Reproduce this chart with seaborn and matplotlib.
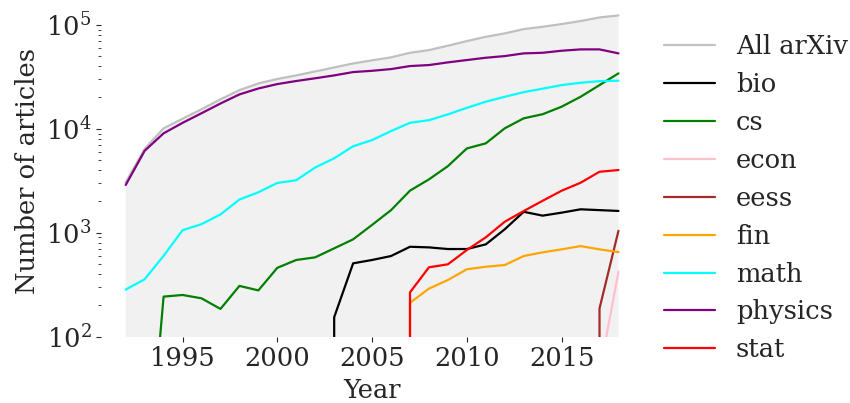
import numpy as np
import pandas as pd
import matplotlib
matplotlib.use("Agg")
import matplotlib.pyplot as plt
import seaborn as sns

# arXiv submissions per year
years = list(range(1992, 2019))

all_arxiv = [3050, 6400, 10100, 12500, 15400, 19200, 23500, 27300, 30100, 32600,
             35600, 38900, 42500, 45500, 48600, 53800, 57100, 62900, 69700, 76700,
             82600, 90900, 95700, 101600, 108600, 117700, 123000]
bio = [0, 0, 0, 0, 0, 0, 0, 0, 0, 0, 0,
       154, 508, 547, 597, 733, 723, 697, 697, 773, 1080, 1590, 1460, 1560, 1680, 1650, 1620]
cs = [0, 2, 243, 252, 234, 185, 308, 279, 460, 547, 580, 708, 864, 1190, 1650, 2540,
      3260, 4370, 6470, 7240, 10100, 12600, 13800, 16300, 20300, 26300, 34100]
econ = [0, 0, 0, 0, 0, 0, 0, 0, 0, 0, 0, 0, 0, 0, 0, 0, 0, 0, 0, 0, 0, 0, 0, 0, 0,
        45, 422]
eess = [0, 0, 0, 0, 0, 0, 0, 0, 0, 0, 0, 0, 0, 0, 0, 0, 0, 0, 0, 0, 0, 0, 0, 0, 0,
        187, 1045]
fin = [0, 0, 0, 0, 0, 0, 0, 0, 0, 0, 0, 0, 0, 0, 0,
       212, 290, 351, 445, 471, 489, 597, 648, 692, 744, 692, 652]
math_ = [284, 357, 600, 1057, 1210, 1500, 2085, 2450, 3010, 3200, 4240, 5200, 6790,
         7780, 9500, 11400, 12100, 13750, 15900, 18200, 20300, 22500, 24300, 26300,
         27700, 28700, 29000]
physics = [2880, 6140, 9040, 11400, 14100, 17500, 21400, 24400, 26900, 28800, 30600,
           32600, 35100, 36100, 37500, 40100, 41000, 43500, 45800, 48200, 50000, 53100,
           53800, 56300, 58000, 58000, 53100]
stat = [0, 0, 0, 0, 0, 0, 0, 0, 0, 0, 0, 0, 0, 0, 0,
        267, 465, 497, 682, 903, 1276, 1617, 2030, 2535, 3025, 3860, 4010]

series = {
    "All arXiv": all_arxiv,
    "bio": bio,
    "cs": cs,
    "econ": econ,
    "eess": eess,
    "fin": fin,
    "math": math_,
    "physics": physics,
    "stat": stat,
}
colors = {
    "All arXiv": "silver",
    "bio": "black",
    "cs": "green",
    "econ": "pink",
    "eess": "brown",
    "fin": "orange",
    "math": "cyan",
    "physics": "purple",
    "stat": "red",
}

sns.set_style("ticks")
plt.rcParams["font.family"] = ["DejaVu Serif"]
plt.rcParams["mathtext.fontset"] = "dejavuserif"
plt.rcParams["font.size"] = 18.5

fig = plt.figure(figsize=(8.5, 4.03), dpi=100)
ax = fig.add_axes([0.1189, 0.1645, 0.6377, 0.823])

ax.fill_between(years, 1, all_arxiv, color="#f1f1f1", lw=0)
for name, vals in series.items():
    sns.lineplot(x=years, y=vals, color=colors[name], label=name,
                 estimator=None, linewidth=1.6, ax=ax, legend=False)

ax.set_yscale("log")
ax.set_xlim(years[0] - 1.3, years[-1] + 1.3)
ax.set_ylim(100, 10 ** 5.19)
ax.set_xticks([1995, 2000, 2005, 2010, 2015])
ax.set_xlabel("Year", labelpad=5)
ax.set_ylabel("Number of articles")
sns.despine(ax=ax, left=True, bottom=True)

handles, labels = ax.get_legend_handles_labels()
fig.legend(handles, labels, loc="upper left", bbox_to_anchor=(0.769, 0.94),
           frameon=False, borderaxespad=0)

fig.savefig("out.png", dpi=100)
